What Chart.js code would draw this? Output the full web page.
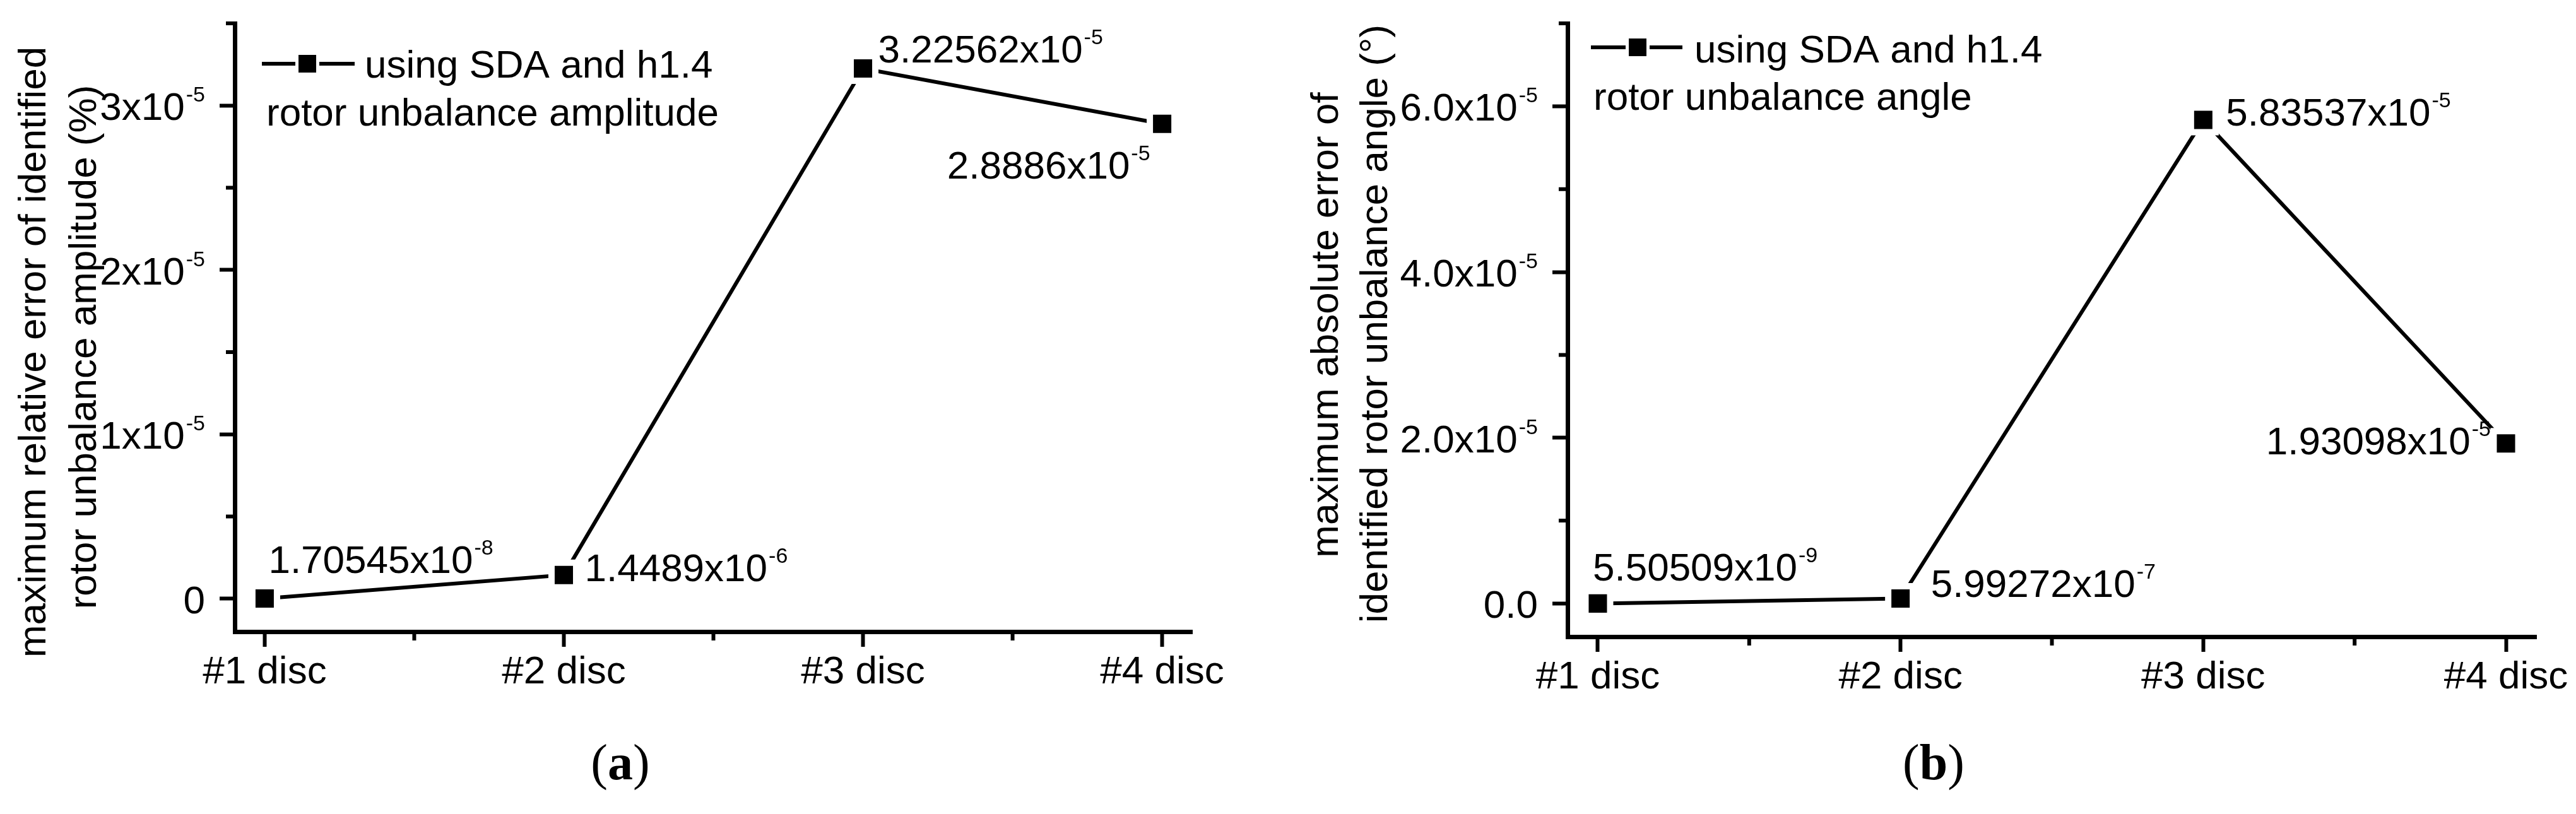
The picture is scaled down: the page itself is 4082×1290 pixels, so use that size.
<!DOCTYPE html>
<html>
<head>
<meta charset="utf-8">
<script src="https://cdn.jsdelivr.net/npm/chart.js@4.4.0/dist/chart.umd.min.js"></script>
<style>
html, body { margin: 0; padding: 0; background: #fff; }
#wrap { position: relative; width: 4082px; height: 1290px; }
canvas { position: absolute; top: 0; }
</style>
</head>
<body>
<div id="wrap">
  <canvas id="chartA" width="2040" height="1290" style="left:0px"></canvas>
  <canvas id="chartB" width="2042" height="1290" style="left:2040px"></canvas>
</div>
<script>
// data
const discs = ['#1 disc', '#2 disc', '#3 disc', '#4 disc'];
const xTicks = [1, 2, 3, 4];
const xMinor = [1.5, 2.5, 3.5];

const ampError = [1.70545e-8, 1.4489e-6, 3.22562e-5, 2.8886e-5];
const ampLabels = ['1.70545x10^-8', '1.4489x10^-6', '3.22562x10^-5', '2.8886x10^-5'];
const ampTicks = [0, 1e-5, 2e-5, 3e-5];
const ampTickLabels = ['0', '1x10^-5', '2x10^-5', '3x10^-5'];
const ampMinor = [0.5e-5, 1.5e-5, 2.5e-5, 3.5e-5];

const angleError = [5.50509e-9, 5.99272e-7, 5.83537e-5, 1.93098e-5];
const angleLabels = ['5.50509x10^-9', '5.99272x10^-7', '5.83537x10^-5', '1.93098x10^-5'];
const angleTicks = [0, 2e-5, 4e-5, 6e-5];
const angleTickLabels = ['0.0', '2.0x10^-5', '4.0x10^-5', '6.0x10^-5'];
const angleMinor = [1e-5, 3e-5, 5e-5, 7e-5];

const FONT = "'Liberation Sans', Arial, sans-serif";
const SERIF = "'Liberation Serif', 'Times New Roman', serif";

// text with a superscript part after '^'
function supText(ctx, text, x, y, align) {
  const parts = text.split('^');
  ctx.textAlign = 'left';
  ctx.textBaseline = 'alphabetic';
  ctx.font = '62px ' + FONT;
  const wb = ctx.measureText(parts[0]).width;
  ctx.font = '34px ' + FONT;
  const ws = parts[1] ? ctx.measureText(parts[1]).width + 2 : 0;
  const total = wb + ws;
  let x0 = x;
  if (align === 'right') x0 = x - total;
  if (align === 'center') x0 = x - total / 2;
  ctx.font = '62px ' + FONT;
  ctx.fillText(parts[0], x0, y);
  if (parts[1]) {
    ctx.font = '34px ' + FONT;
    ctx.fillText(parts[1], x0 + wb + 2, y - 29);
  }
}

const decorPlugin = {
  id: 'decor',
  afterDraw(chart, args, o) {
    const ctx = chart.ctx;
    const xs = chart.scales.x, ys = chart.scales.y, area = chart.chartArea;
    ctx.save();
    ctx.fillStyle = '#000';
    ctx.strokeStyle = '#000';

    // minor ticks
    ctx.lineWidth = 6;
    ctx.beginPath();
    o.yMinor.forEach(v => {
      const y = ys.getPixelForValue(v);
      ctx.moveTo(area.left - 14, y);
      ctx.lineTo(area.left, y);
    });
    xMinor.forEach(v => {
      const x = xs.getPixelForValue(v);
      ctx.moveTo(x, area.bottom);
      ctx.lineTo(x, area.bottom + 14);
    });
    ctx.stroke();

    // y tick labels
    o.yTicks.forEach((v, i) => {
      supText(ctx, o.yTickLabels[i], area.left - 47, ys.getPixelForValue(v) + 23, 'right');
    });

    // point labels
    const meta = chart.getDatasetMeta(0);
    meta.data.forEach((pt, i) => {
      const p = o.labelPos[i];
      supText(ctx, o.pointLabels[i], pt.x + p[0], pt.y + p[1], p[2]);
    });

    // legend
    const L = o.legend;
    ctx.lineWidth = 6;
    ctx.beginPath();
    ctx.moveTo(L.x1, L.y);
    ctx.lineTo(L.x2, L.y);
    ctx.stroke();
    ctx.fillStyle = '#fff';
    ctx.fillRect(L.mx - 19, L.y - 19, 38, 38);
    ctx.fillStyle = '#000';
    ctx.fillRect(L.mx - 14, L.y - 14, 28, 28);
    ctx.font = '62px ' + FONT;
    ctx.textAlign = 'left';
    ctx.textBaseline = 'alphabetic';
    ctx.fillText(L.text1, L.tx1, L.ty1);
    ctx.fillText(L.text2, L.tx2, L.ty2);

    // y axis title, two lines
    ctx.textAlign = 'center';
    o.title.forEach((line, i) => {
      ctx.save();
      ctx.translate(o.titleX[i], o.titleY[i]);
      ctx.rotate(-Math.PI / 2);
      ctx.fillText(line, 0, 0);
      ctx.restore();
    });

    // panel letter
    ctx.textAlign = 'left';
    ctx.font = '80px ' + SERIF;
    const wp = ctx.measureText('(').width;
    ctx.font = 'bold 80px ' + SERIF;
    const wl = ctx.measureText(o.letter).width;
    let px = o.letterX - (2 * wp + wl) / 2;
    ctx.font = '80px ' + SERIF;
    ctx.fillText('(', px, o.letterY);
    ctx.font = 'bold 80px ' + SERIF;
    ctx.fillText(o.letter, px + wp, o.letterY);
    ctx.font = '80px ' + SERIF;
    ctx.fillText(')', px + wp + wl, o.letterY);

    ctx.restore();
  }
};

function makeChart(id, cfg) {
  const axisGrid = {
    display: true, drawOnChartArea: false, drawTicks: true,
    tickLength: 24, tickWidth: 6, tickColor: '#000', color: '#000'
  };
  const axisBorder = { display: true, color: '#000', width: 7 };
  return new Chart(document.getElementById(id), {
    type: 'line',
    data: {
      datasets: [{
        data: cfg.values.map((v, i) => ({ x: xTicks[i], y: v })),
        borderColor: '#000',
        borderWidth: 6,
        tension: 0,
        fill: false,
        pointStyle: 'rect',
        pointRadius: 27.6,
        pointHoverRadius: 27.6,
        pointBackgroundColor: '#000',
        pointBorderColor: '#fff',
        pointBorderWidth: 10
      }]
    },
    options: {
      responsive: false,
      animation: false,
      devicePixelRatio: 1,
      events: [],
      layout: { autoPadding: false, padding: { left: 0, top: 37, right: cfg.padRight, bottom: 0 } },
      plugins: { legend: { display: false }, tooltip: { enabled: false }, decor: cfg },
      scales: {
        x: {
          type: 'linear', min: 0.9, max: 4.1,
          afterBuildTicks: s => { s.ticks = xTicks.map(v => ({ value: v })); },
          afterFit: s => { s.height = cfg.xAxisH; },
          grid: axisGrid, border: axisBorder,
          ticks: {
            autoSkip: false, maxRotation: 0, padding: 4, color: '#000',
            font: { family: FONT, size: 62 },
            callback: v => discs[v - 1]
          }
        },
        y: {
          type: 'linear', min: cfg.yMin, max: cfg.yMax,
          afterBuildTicks: s => { s.ticks = cfg.yTicks.map(v => ({ value: v })); },
          afterFit: s => { s.width = cfg.left; },
          grid: axisGrid, border: axisBorder,
          ticks: { display: false }
        }
      }
    },
    plugins: [decorPlugin]
  });
}

makeChart('chartA', {
  values: ampError, pointLabels: ampLabels,
  yTicks: ampTicks, yTickLabels: ampTickLabels, yMinor: ampMinor,
  yMin: -0.2e-5, yMax: 3.5e-5,
  left: 372, padRight: 151, xAxisH: 289,
  labelPos: [[6, -40, 'left'], [33, 10, 'left'], [24, -9, 'left'], [-19, 87, 'right']],
  legend: { x1: 415, x2: 562, y: 101, mx: 487, text1: 'using SDA and h1.4', tx1: 578, ty1: 123,
            text2: 'rotor unbalance amplitude', tx2: 422, ty2: 199 },
  title: ['maximum relative error of identified', 'rotor unbalance amplitude (%)'],
  titleX: [72, 152], titleY: [558, 550],
  letter: 'a', letterX: 983, letterY: 1235
});

makeChart('chartB', {
  values: angleError, pointLabels: angleLabels,
  yTicks: angleTicks, yTickLabels: angleTickLabels, yMinor: angleMinor,
  yMin: -0.4e-5, yMax: 7e-5,
  left: 444, padRight: 63, xAxisH: 281,
  labelPos: [[-8, -36, 'left'], [48, -3, 'left'], [36, 9, 'left'], [-24, 17, 'right']],
  legend: { x1: 481, x2: 626, y: 75, mx: 555, text1: 'using SDA and h1.4', tx1: 645, ty1: 99,
            text2: 'rotor unbalance angle', tx2: 485, ty2: 174 },
  title: ['maximum absolute error of', 'identified rotor unbalance angle (\u00b0)'],
  titleX: [80, 158], titleY: [515, 513],
  letter: 'b', letterX: 1024, letterY: 1235
});
</script>
</body>
</html>
